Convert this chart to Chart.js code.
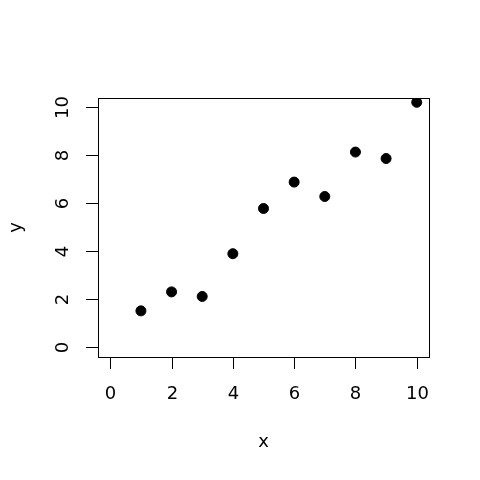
<!DOCTYPE html>
<html>
<head>
<meta charset="utf-8">
<script src="https://cdn.jsdelivr.net/npm/chart.js@4.4.1/dist/chart.umd.min.js"></script>
<style>
  html, body { margin: 0; padding: 0; background: #fff; }
  #wrap { width: 480px; height: 480px; }
</style>
</head>
<body>
<div id="wrap"><canvas id="plot" width="480" height="480"></canvas></div>
<script>
const xValues = [1, 2, 3, 4, 5, 6, 7, 8, 9, 10];
const yValues = [1.52, 2.31, 2.12, 3.9, 5.78, 6.88, 6.28, 8.13, 7.86, 10.2];
const xTicks = [0, 2, 4, 6, 8, 10];
const yTicks = [0, 2, 4, 6, 8, 10];
const xTitle = 'x';
const yTitle = 'y';

const FONT = '18px "DejaVu Sans", sans-serif';

// draws the base-graphics style frame, ticks and labels from the chart's scales
const baseAxes = {
    id: 'baseAxes',
    afterDraw(chart) {
        const ctx = chart.ctx;
        const area = chart.chartArea;
        const xs = chart.scales.x;
        const ys = chart.scales.y;
        ctx.save();
        ctx.strokeStyle = '#000';
        ctx.lineWidth = 1;
        ctx.strokeRect(Math.round(area.left) + 0.5, Math.round(area.top) + 0.5,
            Math.round(area.right - area.left), Math.round(area.bottom - area.top));

        ctx.fillStyle = '#000';
        ctx.font = FONT;

        // x axis
        ctx.textAlign = 'center';
        ctx.textBaseline = 'middle';
        xTicks.forEach(v => {
            const px = Math.round(xs.getPixelForValue(v)) + 0.5;
            ctx.beginPath();
            ctx.moveTo(px, area.bottom);
            ctx.lineTo(px, area.bottom + 12);
            ctx.stroke();
            ctx.fillText(String(v), px, area.bottom + 37);
        });
        ctx.fillText(xTitle, (area.left + area.right) / 2, 442);

        // y axis, labels rotated
        yTicks.forEach(v => {
            const py = Math.round(ys.getPixelForValue(v)) + 0.5;
            ctx.beginPath();
            ctx.moveTo(area.left, py);
            ctx.lineTo(area.left - 12, py);
            ctx.stroke();
            ctx.save();
            ctx.translate(area.left - 35, py);
            ctx.rotate(-Math.PI / 2);
            ctx.fillText(String(v), 0, 0);
            ctx.restore();
        });
        ctx.save();
        ctx.translate(16, (area.top + area.bottom) / 2);
        ctx.rotate(-Math.PI / 2);
        ctx.fillText(yTitle, 0, 0);
        ctx.restore();
        ctx.restore();
    }
};

new Chart(document.getElementById('plot').getContext('2d'), {
    type: 'scatter',
    data: {
        datasets: [{
            data: xValues.map((x, i) => ({ x: x, y: yValues[i] })),
            backgroundColor: '#000',
            borderColor: '#000',
            pointRadius: 5,
            pointHoverRadius: 5
        }]
    },
    options: {
        responsive: false,
        animation: false,
        devicePixelRatio: 1,
        layout: { padding: { left: 98, top: 98, right: 51, bottom: 123 } },
        scales: {
            x: { type: 'linear', min: -0.4, max: 10.4, display: false },
            y: { type: 'linear', min: -0.4, max: 10.38, display: false }
        },
        plugins: {
            legend: { display: false },
            tooltip: { enabled: false }
        }
    },
    plugins: [baseAxes]
});
</script>
</body>
</html>
